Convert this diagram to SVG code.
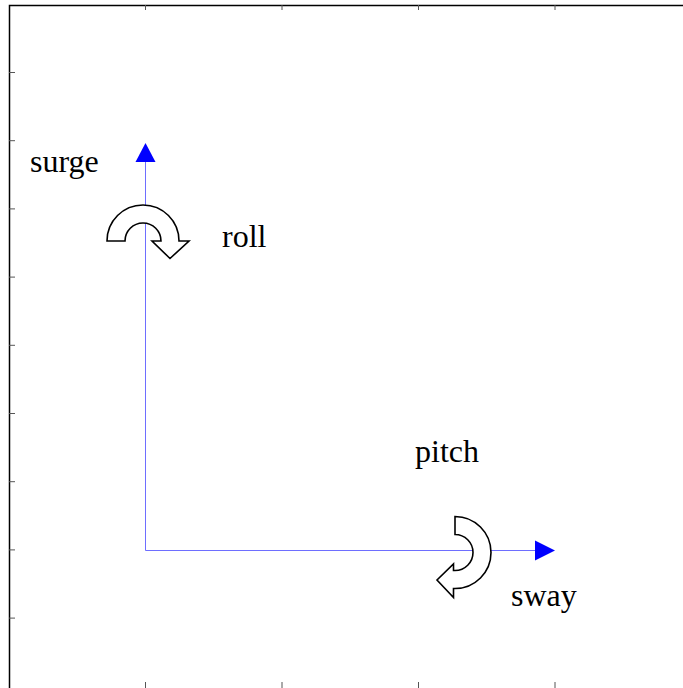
<svg xmlns="http://www.w3.org/2000/svg" width="683" height="688" viewBox="0 0 683 688">
  <style>
    .frame { stroke: #000; stroke-width: 1.5; fill: none; }
    .tick { stroke: #555; stroke-width: 1; fill: none; }
    .axis { stroke: #6e6eff; stroke-width: 1; fill: none; }
    .head { fill: #0000ff; stroke: none; }
    .rot { fill: #fff; stroke: #000; stroke-width: 1.6; stroke-linejoin: miter; }
    .lbl { font-family: "Liberation Serif", "Times New Roman", serif; font-size: 32px; fill: #000; }
  </style>
  <rect width="683" height="688" fill="#fff"/>

  <!-- plot frame and ticks -->
  <g id="frame">
    <path class="frame" d="M9.5,688 V5.5 H683"/>
    <path class="tick" d="M9,72.5h6M9,140.7h6M9,208.9h6M9,277.1h6M9,345.3h6M9,413.5h6M9,481.7h6M9,549.9h6M9,618.1h6"/>
    <path class="tick" d="M145.5,5v5M282,5v5M418.5,5v5M555,5v5"/>
    <path class="tick" d="M145.5,682v6M282,682v6M418.5,682v6M555,682v6"/>
  </g>

  <!-- body axes -->
  <g id="connectors">
    <path class="axis" d="M145.5,162 V550.5 H536"/>
    <polygon class="head" points="145.5,143 135.5,162 155.5,162"/>
    <polygon class="head" points="555,550.5 535,540.5 535,560.5"/>
  </g>

  <!-- rotation arrows -->
  <g id="roll-arrow">
    <path class="rot" d="M107,241 A36,36 0 0 1 179,241 L189,241 L170,258.5 L152,241 L161,241 A18,18 0 0 0 125,241 Z"/>
  </g>
  <g id="pitch-arrow">
    <path class="rot" d="M455,516.5 A36,36 0 0 1 455,588.5 L453.5,588.5 L453.5,597.5 L437,580 L453.5,564 L453.5,570.5 L455,570.5 A18,18 0 0 0 455,534.5 Z"/>
  </g>

  <!-- labels -->
  <g id="surge"><text class="lbl" x="30" y="172">surge</text></g>
  <g id="roll"><text class="lbl" x="222" y="246.5">roll</text></g>
  <g id="pitch"><text class="lbl" x="415" y="462">pitch</text></g>
  <g id="sway"><text class="lbl" x="511" y="606">sway</text></g>
</svg>
